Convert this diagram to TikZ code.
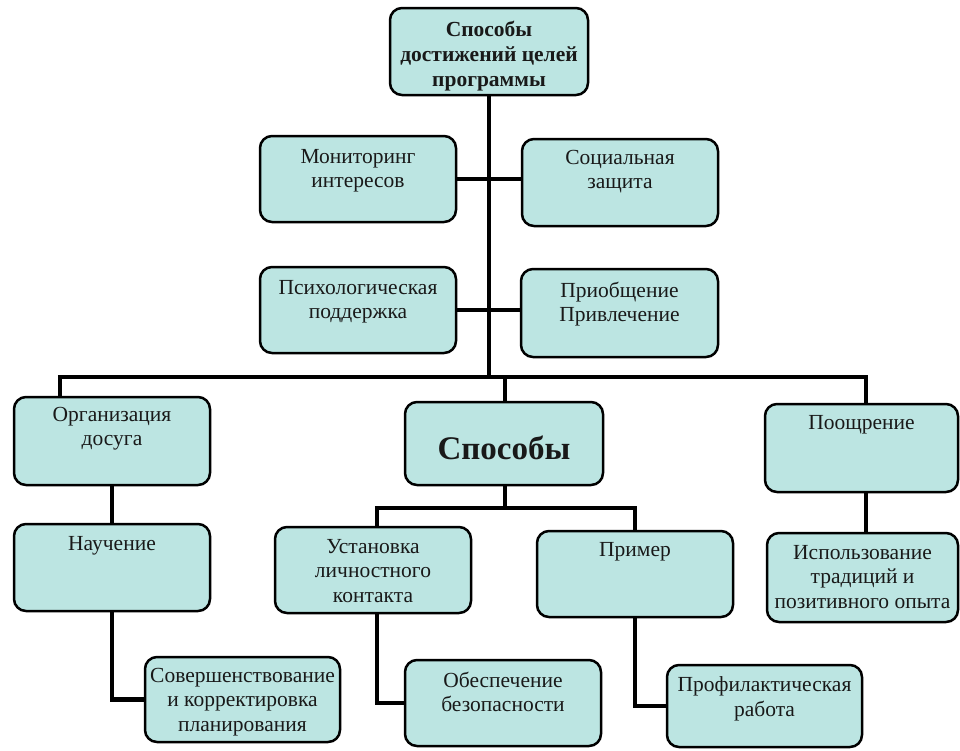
\documentclass[tikz,border=0pt]{standalone}
\usepackage{fontspec}
\setmainfont{Liberation Serif}
\definecolor{boxfill}{RGB}{188,229,226}
\begin{document}
\begin{tikzpicture}[x=1pt,y=-1pt,
  box/.style={draw=black, line width=2.5pt, fill=boxfill, rounded corners=12pt, inner sep=0pt},
  txt/.style={anchor=north, align=center, inner sep=0pt, text=black!90, font=\fontsize{21.5}{24.5}\selectfont},
  conn/.style={line width=4.5pt, black}]
\useasboundingbox (0,0) rectangle (960,750);
\fill[white] (0,0) rectangle (960,750);

% junction points
\coordinate (bar) at (489,377);
\coordinate (bl) at (60,377);
\coordinate (br) at (866,377);
\coordinate (bc) at (505,377);
\coordinate (sj) at (505,508);
\coordinate (sl) at (377,508);
\coordinate (sr) at (635,508);

% boxes
\node[box, minimum width=198pt, minimum height=87pt] (top) at (489,51.5) {};
\node[box, minimum width=196pt, minimum height=86pt] (mon) at (358,179) {};
\node[box, minimum width=196pt, minimum height=87pt] (soc) at (620,182.5) {};
\node[box, minimum width=196pt, minimum height=86pt] (psy) at (358,310) {};
\node[box, minimum width=197pt, minimum height=88pt] (pri) at (619.5,313) {};
\node[box, minimum width=196pt, minimum height=88pt] (org) at (112,441) {};
\node[box, minimum width=198pt, minimum height=83pt] (spo) at (504,443.5) {};
\node[box, minimum width=193pt, minimum height=88pt] (poo) at (861.5,448) {};
\node[box, minimum width=196pt, minimum height=87pt] (nau) at (112,567.5) {};
\node[box, minimum width=196pt, minimum height=86pt] (ust) at (373,570) {};
\node[box, minimum width=196pt, minimum height=86pt] (prm) at (635,574) {};
\node[box, minimum width=191pt, minimum height=89pt] (isp) at (862.5,577.5) {};
\node[box, minimum width=195pt, minimum height=85pt] (sov) at (242.5,699.5) {};
\node[box, minimum width=196pt, minimum height=86pt] (obe) at (503,703) {};
\node[box, minimum width=195pt, minimum height=82pt] (pro) at (764.5,706) {};

% connector lines
\draw[conn] (top.south) -- (bar);
\draw[conn] (mon.east) -- (mon.east -| soc.west);
\draw[conn] (psy.east) -- (psy.east -| pri.west);
\draw[conn] ([xshift=-2.25pt]bl) -- ([xshift=2.25pt]br);
\draw[conn] (bl) -- (bl |- org.north);
\draw[conn] (bc) -- (bc |- spo.north);
\draw[conn] (br) -- (br |- poo.north);
\draw[conn] (org.south) -- (nau.north);
\draw[conn] (nau.south) |- (sov.west);
\draw[conn] (spo.south -| sj) -- (sj);
\draw[conn] ([xshift=-2.25pt]sl) -- ([xshift=2.25pt]sr);
\draw[conn] (sl) -- (sl |- ust.north);
\draw[conn] (sr) -- (sr |- prm.north);
\draw[conn] (sl |- ust.south) |- (obe.west);
\draw[conn] (prm.south) |- (pro.west);
\draw[conn] (br |- poo.south) -- (br |- isp.north);

% texts
\node[txt, font=\bfseries\fontsize{21.5}{25}\selectfont] (top-t) at ([yshift=-14pt]top.north) {Способы\\достижений целей\\программы};
\node[txt] (mon-t) at ([yshift=-14pt]mon.north) {Мониторинг\\интересов};
\node[txt] (soc-t) at ([yshift=-12pt]soc.north) {Социальная\\защита};
\node[txt] (psy-t) at ([yshift=-14pt]psy.north) {Психологическая\\поддержка};
\node[txt] (pri-t) at ([yshift=-14pt]pri.north) {Приобщение\\Привлечение};
\node[txt] (org-t) at ([yshift=-11pt]org.north) {Организация\\досуга};
\node[txt, font=\bfseries\fontsize{33}{36}\selectfont] (spo-t) at ([yshift=-35pt]spo.north) {Способы};
\node[txt] (poo-t) at ([yshift=-12pt]poo.north) {Поощрение};
\node[txt] (nau-t) at ([yshift=-13pt]nau.north) {Научение};
\node[txt] (ust-t) at ([yshift=-13pt]ust.north) {Установка\\личностного\\контакта};
\node[txt] (prm-t) at ([yshift=-12pt]prm.north) {Пример};
\node[txt] (isp-t) at ([yshift=-13pt]isp.north) {Использование\\традиций и\\позитивного опыта};
\node[txt] (sov-t) at ([yshift=-12pt]sov.north) {Совершенствование\\и корректировка\\планирования};
\node[txt] (obe-t) at ([yshift=-13pt]obe.north) {Обеспечение\\безопасности};
\node[txt] (pro-t) at ([yshift=-13pt]pro.north) {Профилактическая\\работа};
\end{tikzpicture}
\end{document}
